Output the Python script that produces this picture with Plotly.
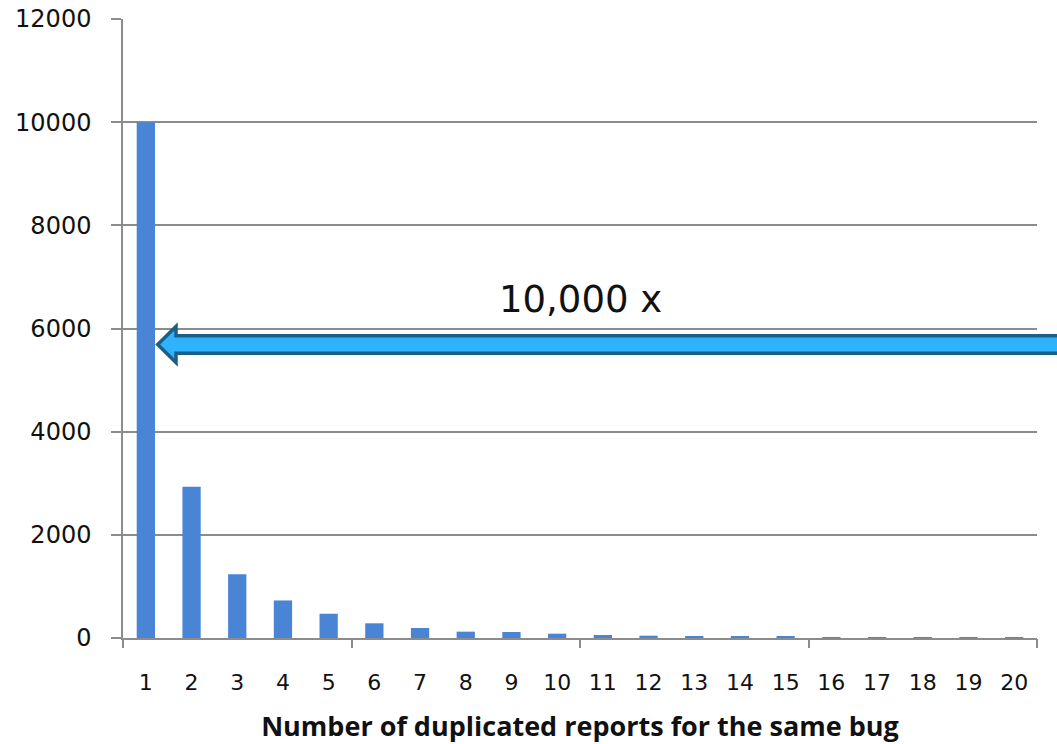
import plotly.graph_objects as go

# Number of duplicated reports filed for the same bug, and how many bugs had that many
duplicates = list(range(1, 21))
bug_counts = [10000, 2930, 1235, 728, 470, 285, 194, 123, 116, 84,
              58, 45, 35, 20, 20, 15, 12, 12, 15, 5]
y_ticks = [0, 2000, 4000, 6000, 8000, 10000, 12000]
x_title = "Number of duplicated reports for the same bug"
callout = "10,000 x"

GRID = "#8c8c8c"
TICK_FONT = "DejaVu Sans, sans-serif"
TITLE_FONT = "Open Sans, sans-serif"

fig = go.Figure()
fig.add_trace(go.Bar(
    x=duplicates, y=bug_counts, width=0.4,
    marker=dict(color="#4a84d5", line=dict(width=0)),
    showlegend=False, hoverinfo="x+y",
))
# invisible trace on the overlay axis so the boundary tick marks are drawn
fig.add_trace(go.Scatter(x=[0.5], y=[0], xaxis="x2", mode="markers",
                         marker=dict(opacity=0), showlegend=False, hoverinfo="skip"))

fig.update_layout(
    width=1057, height=744,
    margin=dict(l=123, r=20, t=19, b=106),
    plot_bgcolor="white", paper_bgcolor="white",
    font=dict(family=TICK_FONT, color="#111111"),
    xaxis=dict(
        range=[0.5, 20.5], tickmode="array", tickvals=duplicates,
        ticktext=[str(d) for d in duplicates],
        ticks="", showgrid=False, zeroline=False, automargin=False,
        showline=True, linecolor=GRID, linewidth=1.5,
        tickfont=dict(size=22, family=TICK_FONT),
        ticklabelstandoff=24,
        title=dict(text=x_title, font=dict(size=27, family=TITLE_FONT, weight="bold"),
                   standoff=24),
    ),
    xaxis2=dict(
        overlaying="x", side="bottom", range=[0.5, 20.5],
        tickmode="array", tickvals=[0.5, 5.5, 10.5, 15.5, 20.5],
        ticks="outside", ticklen=9, tickwidth=1.5, tickcolor=GRID,
        showticklabels=False, showgrid=False, zeroline=False, showline=False,
        automargin=False,
    ),
    yaxis=dict(
        range=[0, 12000], tickmode="array", tickvals=y_ticks,
        ticktext=[str(v) for v in y_ticks],
        ticks="outside", ticklen=10, tickwidth=1.5, tickcolor=GRID,
        showgrid=True, gridcolor=GRID, gridwidth=1.5, automargin=False,
        zeroline=False, showline=True, linecolor=GRID, linewidth=1.5,
        tickfont=dict(size=24, family=TICK_FONT),
        ticklabelstandoff=15,
    ),
)

# block arrow pointing at the first bar
y_mid, half_body, half_head = 5690, 170, 350
x_tip, x_neck, x_end = 0.038, 0.058, 1.03
arrow_path = (
    f"M {x_tip} {y_mid} "
    f"L {x_neck} {y_mid + half_head} L {x_neck} {y_mid + half_body} "
    f"L {x_end} {y_mid + half_body} L {x_end} {y_mid - half_body} "
    f"L {x_neck} {y_mid - half_body} L {x_neck} {y_mid - half_head} Z"
)
fig.add_shape(type="path", path=arrow_path, xref="paper", yref="y",
              fillcolor="#30b3ff", line=dict(color="#1b5f88", width=3.5),
              layer="above")

fig.add_annotation(text=callout, x=0.5, xref="paper", y=6560, yref="y",
                   showarrow=False, font=dict(size=37, family=TICK_FONT, color="#111111"))

fig.write_html("out.html")
